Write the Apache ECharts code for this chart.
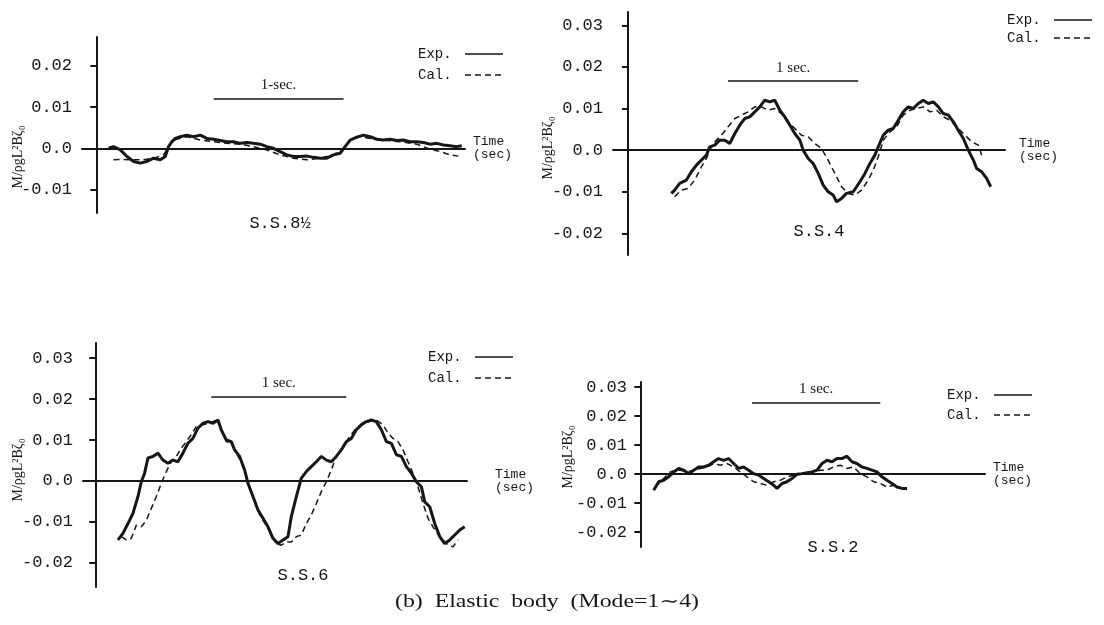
<!DOCTYPE html>
<html>
<head>
<meta charset="utf-8">
<script src="https://cdn.jsdelivr.net/npm/echarts@6/dist/echarts.min.js"></script>
<style>
html,body{margin:0;padding:0;background:#fff;}
#chart{width:1104px;height:625px;}
</style>
</head>
<body>
<div id="chart"></div>
<script>
// ---- data: [time (s), M/ρgL²Bζ0] ----
const ss8Exp = [[0.095,0.0000],[0.133,0.0004],[0.185,-0.0004],[0.236,-0.0020],[0.287,-0.0032],[0.338,-0.0036],[0.390,-0.0032],[0.441,-0.0024],[0.492,-0.0028],[0.531,-0.0020],[0.556,0.0004],[0.582,0.0016],[0.608,0.0024],[0.646,0.0028],[0.697,0.0032],[0.749,0.0028],[0.800,0.0032],[0.851,0.0024],[0.903,0.0022],[0.954,0.0019],[1.005,0.0016],[1.056,0.0016],[1.108,0.0012],[1.159,0.0014],[1.210,0.0012],[1.262,0.0010],[1.313,0.0004],[1.364,0.0000],[1.415,-0.0008],[1.467,-0.0016],[1.518,-0.0020],[1.569,-0.0020],[1.621,-0.0019],[1.672,-0.0022],[1.723,-0.0024],[1.774,-0.0024],[1.826,-0.0016],[1.877,-0.0012],[1.915,0.0004],[1.954,0.0020],[2.005,0.0027],[2.056,0.0032],[2.108,0.0028],[2.159,0.0022],[2.210,0.0020],[2.262,0.0022],[2.313,0.0019],[2.364,0.0020],[2.415,0.0016],[2.467,0.0016],[2.518,0.0014],[2.569,0.0010],[2.621,0.0012],[2.672,0.0008],[2.723,0.0006],[2.774,0.0004],[2.813,0.0006]];
const ss8Cal = [[0.133,-0.0028],[0.210,-0.0027],[0.287,-0.0028],[0.364,-0.0028],[0.441,-0.0024],[0.518,-0.0016],[0.556,0.0004],[0.595,0.0020],[0.646,0.0024],[0.697,0.0028],[0.749,0.0024],[0.800,0.0020],[0.903,0.0016],[1.005,0.0012],[1.108,0.0010],[1.210,0.0004],[1.313,-0.0004],[1.415,-0.0016],[1.518,-0.0024],[1.621,-0.0028],[1.723,-0.0024],[1.826,-0.0016],[1.903,0.0000],[1.954,0.0020],[2.031,0.0028],[2.108,0.0024],[2.210,0.0020],[2.338,0.0016],[2.467,0.0010],[2.569,-0.0002],[2.646,-0.0008],[2.723,-0.0016],[2.787,-0.0019]];

const ss4Exp = [[0.333,-0.0104],[0.359,-0.0096],[0.397,-0.0080],[0.449,-0.0072],[0.487,-0.0052],[0.526,-0.0036],[0.564,-0.0024],[0.603,-0.0012],[0.628,0.0008],[0.667,0.0012],[0.705,0.0024],[0.744,0.0024],[0.782,0.0016],[0.821,0.0040],[0.859,0.0060],[0.897,0.0076],[0.936,0.0080],[0.974,0.0092],[1.013,0.0104],[1.051,0.0120],[1.090,0.0116],[1.128,0.0120],[1.167,0.0096],[1.205,0.0080],[1.244,0.0060],[1.282,0.0040],[1.321,0.0024],[1.346,0.0000],[1.385,-0.0020],[1.423,-0.0032],[1.462,-0.0056],[1.500,-0.0084],[1.538,-0.0100],[1.577,-0.0108],[1.603,-0.0124],[1.641,-0.0116],[1.679,-0.0104],[1.731,-0.0100],[1.782,-0.0076],[1.821,-0.0056],[1.859,-0.0032],[1.897,-0.0012],[1.923,0.0008],[1.962,0.0036],[2.000,0.0048],[2.038,0.0052],[2.077,0.0072],[2.115,0.0092],[2.154,0.0104],[2.192,0.0100],[2.231,0.0112],[2.269,0.0120],[2.308,0.0112],[2.346,0.0116],[2.385,0.0104],[2.423,0.0088],[2.462,0.0084],[2.500,0.0068],[2.538,0.0048],[2.577,0.0028],[2.615,0.0000],[2.654,-0.0024],[2.679,-0.0044],[2.718,-0.0052],[2.756,-0.0068],[2.787,-0.0088]];
const ss4Cal = [[0.359,-0.0112],[0.410,-0.0096],[0.462,-0.0092],[0.513,-0.0072],[0.564,-0.0040],[0.603,-0.0020],[0.641,0.0008],[0.679,0.0024],[0.718,0.0036],[0.769,0.0056],[0.821,0.0076],[0.872,0.0084],[0.923,0.0092],[0.974,0.0104],[1.026,0.0104],[1.077,0.0096],[1.128,0.0100],[1.179,0.0088],[1.231,0.0068],[1.282,0.0052],[1.333,0.0036],[1.385,0.0032],[1.436,0.0016],[1.487,0.0004],[1.538,-0.0024],[1.590,-0.0056],[1.641,-0.0088],[1.692,-0.0104],[1.744,-0.0108],[1.795,-0.0096],[1.846,-0.0072],[1.885,-0.0048],[1.923,-0.0016],[1.962,0.0024],[2.013,0.0044],[2.064,0.0056],[2.115,0.0084],[2.167,0.0096],[2.218,0.0100],[2.269,0.0104],[2.321,0.0092],[2.372,0.0096],[2.423,0.0080],[2.474,0.0072],[2.526,0.0056],[2.577,0.0040],[2.641,0.0020],[2.692,0.0012],[2.718,-0.0012]];

const ss6Exp = [[0.168,-0.0144],[0.205,-0.0128],[0.242,-0.0104],[0.279,-0.0079],[0.316,-0.0038],[0.341,-0.0002],[0.365,0.0019],[0.390,0.0056],[0.427,0.0060],[0.464,0.0068],[0.501,0.0051],[0.538,0.0043],[0.575,0.0051],[0.612,0.0047],[0.649,0.0068],[0.686,0.0092],[0.723,0.0104],[0.760,0.0129],[0.798,0.0141],[0.835,0.0145],[0.872,0.0141],[0.909,0.0149],[0.933,0.0125],[0.970,0.0100],[1.007,0.0096],[1.032,0.0076],[1.069,0.0060],[1.106,0.0027],[1.131,-0.0006],[1.168,-0.0038],[1.205,-0.0071],[1.242,-0.0091],[1.279,-0.0112],[1.316,-0.0140],[1.353,-0.0153],[1.390,-0.0144],[1.427,-0.0136],[1.452,-0.0087],[1.489,-0.0038],[1.526,0.0007],[1.563,0.0023],[1.600,0.0035],[1.637,0.0047],[1.674,0.0060],[1.711,0.0051],[1.748,0.0047],[1.785,0.0060],[1.822,0.0076],[1.859,0.0096],[1.896,0.0104],[1.933,0.0125],[1.970,0.0137],[2.007,0.0145],[2.044,0.0149],[2.081,0.0145],[2.119,0.0125],[2.156,0.0096],[2.193,0.0092],[2.230,0.0064],[2.267,0.0060],[2.304,0.0035],[2.341,0.0019],[2.378,-0.0002],[2.415,-0.0014],[2.440,-0.0051],[2.477,-0.0063],[2.514,-0.0104],[2.551,-0.0136],[2.588,-0.0153],[2.625,-0.0144],[2.662,-0.0132],[2.699,-0.0120],[2.736,-0.0112]];
const ss6Cal = [[0.193,-0.0136],[0.230,-0.0144],[0.267,-0.0140],[0.304,-0.0108],[0.341,-0.0112],[0.378,-0.0096],[0.415,-0.0067],[0.452,-0.0038],[0.489,-0.0006],[0.526,0.0023],[0.563,0.0047],[0.600,0.0060],[0.637,0.0080],[0.674,0.0096],[0.711,0.0113],[0.748,0.0133],[0.798,0.0137],[0.847,0.0141],[0.896,0.0149],[0.933,0.0129],[0.970,0.0096],[1.007,0.0096],[1.044,0.0068],[1.081,0.0047],[1.119,0.0011],[1.156,-0.0026],[1.193,-0.0063],[1.230,-0.0091],[1.267,-0.0108],[1.304,-0.0132],[1.341,-0.0153],[1.378,-0.0157],[1.415,-0.0149],[1.452,-0.0149],[1.489,-0.0136],[1.526,-0.0132],[1.563,-0.0104],[1.600,-0.0083],[1.637,-0.0055],[1.674,-0.0026],[1.711,-0.0002],[1.748,0.0027],[1.785,0.0060],[1.835,0.0084],[1.884,0.0109],[1.933,0.0129],[1.983,0.0141],[2.032,0.0145],[2.081,0.0149],[2.131,0.0137],[2.168,0.0117],[2.205,0.0104],[2.242,0.0096],[2.279,0.0076],[2.316,0.0047],[2.353,0.0019],[2.390,-0.0014],[2.427,-0.0055],[2.464,-0.0091],[2.501,-0.0112],[2.551,-0.0136],[2.600,-0.0153],[2.649,-0.0161],[2.686,-0.0144]];

const ss2Exp = [[0.104,-0.0055],[0.143,-0.0026],[0.182,-0.0021],[0.221,-0.0009],[0.260,0.0008],[0.299,0.0020],[0.338,0.0014],[0.377,0.0002],[0.416,0.0014],[0.455,0.0025],[0.494,0.0025],[0.532,0.0031],[0.571,0.0043],[0.610,0.0054],[0.649,0.0048],[0.688,0.0054],[0.727,0.0037],[0.766,0.0020],[0.805,0.0025],[0.844,0.0014],[0.883,0.0002],[0.922,-0.0003],[0.961,-0.0015],[1.000,-0.0026],[1.039,-0.0038],[1.065,-0.0049],[1.104,-0.0032],[1.143,-0.0026],[1.182,-0.0015],[1.221,0.0000],[1.260,0.0002],[1.299,0.0005],[1.338,0.0008],[1.377,0.0014],[1.416,0.0037],[1.455,0.0048],[1.494,0.0043],[1.532,0.0054],[1.571,0.0054],[1.610,0.0062],[1.649,0.0043],[1.688,0.0037],[1.727,0.0025],[1.766,0.0020],[1.805,0.0014],[1.844,0.0008],[1.883,-0.0009],[1.922,-0.0021],[1.961,-0.0032],[2.000,-0.0044],[2.039,-0.0049],[2.078,-0.0049]];
const ss2Cal = [[0.117,-0.0044],[0.156,-0.0026],[0.195,-0.0009],[0.234,0.0008],[0.273,0.0014],[0.312,0.0014],[0.364,0.0008],[0.416,0.0014],[0.468,0.0020],[0.519,0.0025],[0.571,0.0037],[0.623,0.0031],[0.675,0.0037],[0.727,0.0025],[0.779,0.0008],[0.831,-0.0009],[0.883,-0.0026],[0.935,-0.0032],[0.987,-0.0038],[1.039,-0.0026],[1.091,-0.0021],[1.143,-0.0009],[1.195,-0.0003],[1.247,0.0000],[1.299,0.0002],[1.351,0.0008],[1.403,0.0014],[1.455,0.0014],[1.506,0.0025],[1.558,0.0031],[1.610,0.0020],[1.662,0.0025],[1.714,0.0002],[1.766,-0.0009],[1.818,-0.0026],[1.870,-0.0032],[1.922,-0.0044],[1.974,-0.0038]];

// tick labels per panel
const ticksSS8 = [-0.01, 0, 0.01, 0.02];
const ticksSS4 = [-0.02, -0.01, 0, 0.01, 0.02, 0.03];
const ticksSS6 = [-0.02, -0.01, 0, 0.01, 0.02, 0.03];
const ticksSS2 = [-0.02, -0.01, 0, 0.01, 0.02, 0.03];

// panel names and 1-second scale bars [start time, end time, level, label]
const panelNames = ['S.S.8½', 'S.S.4', 'S.S.6', 'S.S.2'];
const scaleBars = [[0.903, 1.903, 0.0121, '1-sec.'], [0.769, 1.769, 0.0166, '1 sec.'], [0.859, 1.859, 0.0205, '1 sec.'], [0.870, 1.870, 0.0246, '1 sec.']];
const legendNames = ['Exp.', 'Cal.'];
const yName = 'M/ρgL²Bζ₀';
const caption = '(b)  Elastic  body  (Mode=1∼4)';

// ---- layout ----
const panels = [
  {exp: ss8Exp, cal: ss8Cal, ticks: ticksSS8, grid: {left: 82, top: 37, width: 383, height: 176}, x: [-0.110, 2.838], y: [-0.0157, 0.0270], nameGap: 8,
   legend: {left: 413, top: 42, itemGap: 7}, title: [280, 223], ylab: [18, 157]},
  {exp: ss4Exp, cal: ss4Cal, ticks: ticksSS4, grid: {left: 613, top: 12, width: 392, height: 243}, x: [-0.115, 2.897], y: [-0.0252, 0.0332], nameGap: 14,
   legend: {left: 1002, top: 8, itemGap: 4}, title: [819, 231], ylab: [548, 148]},
  {exp: ss6Exp, cal: ss6Cal, ticks: ticksSS6, grid: {left: 83, top: 343, width: 384, height: 244}, x: [-0.091, 2.753], y: [-0.0259, 0.0337], nameGap: 28,
   legend: {left: 423, top: 345, itemGap: 7}, title: [303, 575], ylab: [18, 470]},
  {exp: ss2Exp, cal: ss2Cal, ticks: ticksSS2, grid: {left: 637, top: 382, width: 348, height: 165}, x: [-0.026, 2.686], y: [-0.0251, 0.0318], nameGap: 8,
   legend: {left: 942, top: 383, itemGap: 6}, title: [833, 547], ylab: [568, 457]}
];

const INK = '#161616';
const MONO = '"Liberation Mono", "DejaVu Sans Mono", monospace';
const SERIF = '"Liberation Serif", "DejaVu Serif", serif';

const fmt = v => Math.abs(v) < 1e-9 ? '0.0' : v.toFixed(2);

const option = {
  animation: false,
  backgroundColor: '#fff',
  grid: panels.map(p => p.grid),
  xAxis: panels.map((p, i) => ({
    type: 'value', gridIndex: i, min: p.x[0], max: p.x[1],
    axisLine: {show: true, onZero: true, lineStyle: {color: INK, width: 2}},
    axisTick: {show: false}, axisLabel: {show: false}, splitLine: {show: false},
    name: 'Time\n(sec)', nameLocation: 'end', nameGap: p.nameGap,
    nameTextStyle: {fontFamily: MONO, fontSize: 13, lineHeight: 13, color: INK, align: 'left', verticalAlign: 'middle'}
  })),
  yAxis: panels.map((p, i) => ({
    type: 'value', gridIndex: i, min: p.y[0], max: p.y[1],
    axisLine: {show: true, onZero: true, lineStyle: {color: INK, width: 2}},
    axisTick: {show: true, length: 6, customValues: p.ticks, lineStyle: {color: INK, width: 2}},
    axisLabel: {show: true, customValues: p.ticks, formatter: fmt, margin: 10, fontFamily: MONO, fontSize: 17, color: INK},
    splitLine: {show: false}
  })),
  legend: panels.map(p => ({
    data: legendNames, orient: 'vertical', align: 'right', left: p.legend.left, top: p.legend.top,
    itemGap: p.legend.itemGap, itemWidth: 38, itemHeight: 10, selectedMode: false,
    formatter: n => n + ' ',
    itemStyle: {opacity: 0},
    lineStyle: {width: 1.5},
    textStyle: {fontFamily: MONO, fontSize: 14, lineHeight: 14, color: INK}
  })),
  series: [],
  graphic: []
};

panels.forEach((p, i) => {
  const bar = scaleBars[i];
  option.series.push({
    name: 'Exp.', type: 'line', xAxisIndex: i, yAxisIndex: i, data: p.exp,
    symbol: 'none', smooth: false, lineStyle: {color: INK, width: 3}, itemStyle: {color: INK},
    markLine: {
      silent: true, symbol: ['none', 'none'],
      lineStyle: {color: INK, width: 1.5, type: 'solid'},
      label: {show: true, position: 'middle', formatter: bar[3], fontFamily: SERIF, fontSize: 15, color: INK, distance: 6},
      data: [[{coord: [bar[0], bar[2]]}, {coord: [bar[1], bar[2]]}]]
    }
  });
  option.series.push({
    name: 'Cal.', type: 'line', xAxisIndex: i, yAxisIndex: i, data: p.cal,
    symbol: 'none', smooth: false, lineStyle: {color: INK, width: 1.5, type: [6, 4]}, itemStyle: {color: INK}
  });
  option.graphic.push({
    type: 'text', x: p.title[0], y: p.title[1],
    style: {text: panelNames[i], font: '17px ' + MONO, fill: INK, textAlign: 'center', textVerticalAlign: 'middle'}
  });
  option.graphic.push({
    type: 'text', x: p.ylab[0], y: p.ylab[1], rotation: Math.PI / 2,
    style: {text: yName, font: '14px ' + SERIF, fill: INK, textAlign: 'center', textVerticalAlign: 'middle'}
  });
});

option.graphic.push({
  type: 'text', x: 547, y: 602, scaleX: 1.32,
  style: {text: caption, font: '18px ' + SERIF, fill: INK, textAlign: 'center', textVerticalAlign: 'middle'}
});

const chart = echarts.init(document.getElementById('chart'), null, {renderer: 'canvas'});
chart.setOption(option);
</script>
</body>
</html>
